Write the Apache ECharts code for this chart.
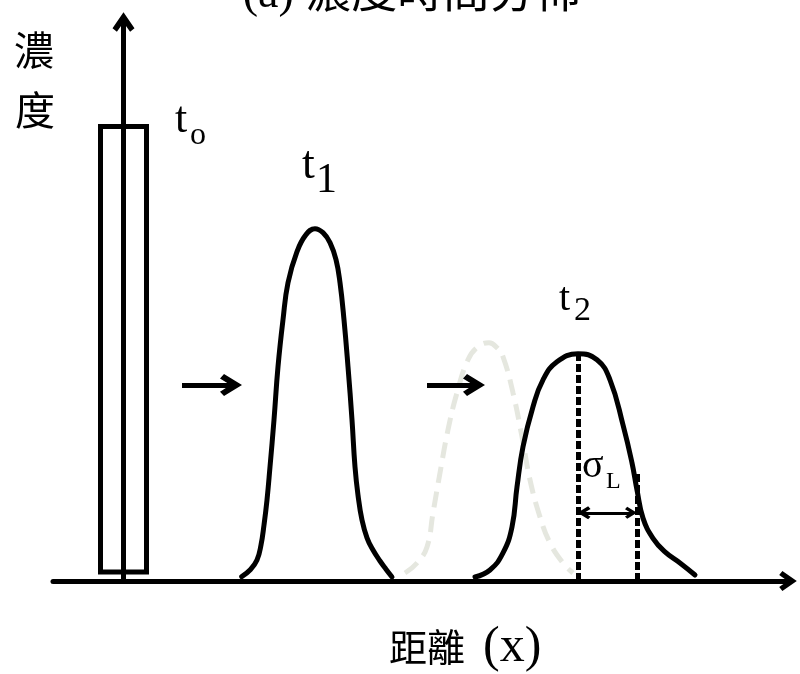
<!DOCTYPE html>
<html>
<head>
<meta charset="utf-8">
<script src="https://cdn.jsdelivr.net/npm/echarts@6/dist/echarts.min.js"></script>
<style>
  html, body { margin: 0; padding: 0; background: #fff; }
  #chart { width: 800px; height: 674px; }
</style>
</head>
<body>
<div id="chart"></div>
<script>
// Initial pulse at t0: a rectangular slug of solute at the injection point
const pulseEdges = [-2.3, 2.3];
const pulseBase = 2;
const pulseHeight = 100;

// Concentration profile at t1 (distance, concentration)
const t1X = [11.82, 12.65, 13.35, 13.75, 14.05, 14.35, 14.65, 15.05, 15.45, 15.95, 16.45, 17.35, 18.25, 19.15,
             19.95, 20.65, 21.25, 21.65, 22.05, 22.45, 22.85, 23.15, 23.45, 23.85, 24.35, 24.95, 25.65, 26.25, 26.85];
const t1Y = [0.95, 2.42, 4.63, 7.93, 12.33, 17.84, 25.11, 35.46, 47.14, 57.49, 65.64, 72.47, 76.21, 77.53,
             76.65, 74.45, 70.70, 65.64, 57.49, 47.14, 35.46, 25.11, 18.9, 13.4, 9.5, 6.8, 4.4, 2.6, 0.88];

// Pure advection of the t1 profile (no extra spreading), shown faint
const advX = [28.15, 29.35, 30.35, 30.95, 31.65, 32.45, 33.35, 34.45, 35.45, 36.55, 37.35, 37.95, 38.95,
              39.85, 40.65, 41.65, 42.65, 43.95, 44.95];
const advY = [1.76, 3.96, 7.49, 14.98, 23.79, 33.26, 41.41, 48.68, 51.54, 52.42, 51.32, 49.34, 41.41,
              31.72, 22.25, 14.10, 8.37, 3.96, 1.76];

// Concentration profile at t2, spread by longitudinal dispersion
const t2X = [35.15, 36.65, 37.95, 38.85, 39.35, 39.95, 40.95, 41.95, 43.35, 45.45, 47.35, 48.65, 49.95,
             50.85, 51.35, 51.95, 52.95, 54.15, 55.65, 57.15];
const t2Y = [0.88, 2.42, 6.17, 11.89, 20.70, 29.52, 38.33, 44.27, 48.24, 50.00, 48.68, 44.27, 34.36,
             25.99, 20.04, 13.84, 9.4, 6.4, 3.96, 1.32];

// Peak position of t2, one standard deviation to its right, and the level of the sigma arrow
const t2Peak = [45.45, 50.0];
const sigmaL = 5.9;
const sigmaMarkTop = 24;
const sigmaArrowLevel = 15;

// Drift arrows between profiles: [start x, end x, level]
const driftArrows = [[5.85, 10.75, 43.1], [30.35, 35.05, 43.1]];

const zip = (xs, ys) => xs.map((x, i) => [x, ys[i]]);

const SERIF = '"Liberation Serif", "Times New Roman", serif';
const CJK = '"Noto Sans CJK TC", "Noto Sans CJK SC", sans-serif';
const MIX = '"Liberation Serif", "Noto Sans CJK TC", serif';

// Chevron arrow head, pointing up (the library rotates it along the line)
const CHEVRON = 'path://M50,0 L100,72 L80,88 L50,46 L20,88 L0,72 Z';

function txt(str, x, y, size, family, align) {
  return {
    type: 'text', x: x, y: y, silent: true, z: 10,
    style: {
      text: str, fill: '#000',
      font: size + 'px ' + family,
      textAlign: align || 'left', textVerticalAlign: 'middle'
    }
  };
}

const chart = echarts.init(document.getElementById('chart'), null, { renderer: 'canvas' });

const pulse = [
  [pulseEdges[0], pulseBase], [pulseEdges[0], pulseHeight],
  [pulseEdges[1], pulseHeight], [pulseEdges[1], pulseBase], [pulseEdges[0], pulseBase]
];

const curveStyle = { color: '#000', width: 5, cap: 'round', join: 'round' };

chart.setOption({
  animation: false,
  backgroundColor: '#fff',
  grid: { left: 53, right: 12, top: 22, bottom: 93 },
  xAxis: {
    type: 'value', min: -7.05, max: 66.45,
    axisLine: {
      show: true, onZero: true,
      symbol: ['none', CHEVRON], symbolSize: [20, 20],
      lineStyle: { color: '#000', width: 5 }
    },
    axisTick: { show: false }, axisLabel: { show: false }, splitLine: { show: false }
  },
  yAxis: {
    type: 'value', min: 0, max: 123,
    axisLine: {
      show: true, onZero: true,
      symbol: ['none', CHEVRON], symbolSize: [22, 20],
      lineStyle: { color: '#000', width: 5 }
    },
    axisTick: { show: false }, axisLabel: { show: false }, splitLine: { show: false }
  },
  series: [
    {
      name: 't0', type: 'line', data: pulse, symbol: 'none', clip: false, z: 3,
      lineStyle: { color: '#000', width: 5, join: 'miter', cap: 'square' }
    },
    {
      name: 't1', type: 'line', data: zip(t1X, t1Y), symbol: 'none', smooth: 0.45,
      clip: false, z: 3, lineStyle: curveStyle
    },
    {
      name: 'advection', type: 'line', data: zip(advX, advY), symbol: 'none', smooth: 0.45,
      clip: false, z: 2, lineStyle: { color: '#e5e7df', width: 5, type: [16, 9], cap: 'butt' }
    },
    {
      name: 't2', type: 'line', data: zip(t2X, t2Y), symbol: 'none', smooth: 0.45,
      clip: false, z: 3, lineStyle: curveStyle
    },
    {
      name: 'drift', type: 'lines', coordinateSystem: 'cartesian2d', z: 4,
      symbol: ['none', CHEVRON], symbolSize: [24, 22],
      lineStyle: { color: '#000', width: 5, opacity: 1 },
      data: driftArrows.map(a => ({ coords: [[a[0], a[2]], [a[1], a[2]]] }))
    },
    {
      name: 'sigma marks', type: 'lines', coordinateSystem: 'cartesian2d', z: 4,
      symbol: ['none', 'none'],
      lineStyle: { color: '#000', width: 5, type: [8, 3], opacity: 1 },
      data: [
        { coords: [[t2Peak[0], 0], [t2Peak[0], t2Peak[1]]] },
        { coords: [[t2Peak[0] + sigmaL, 0], [t2Peak[0] + sigmaL, sigmaMarkTop]] }
      ]
    },
    {
      name: 'sigma span', type: 'lines', coordinateSystem: 'cartesian2d', z: 4,
      symbol: [CHEVRON, CHEVRON], symbolSize: [13, 12],
      lineStyle: { color: '#000', width: 3, opacity: 1 },
      data: [{ coords: [[t2Peak[0] + 0.6, sigmaArrowLevel], [t2Peak[0] + sigmaL - 0.6, sigmaArrowLevel]] }]
    }
  ],
  graphic: [
    txt('(a) 濃度時間分佈', 412, -5, 46, MIX, 'center'),
    txt('濃', 34, 50, 40, CJK, 'center'),
    txt('度', 35, 110, 40, CJK, 'center'),
    txt('t', 175, 120, 44, SERIF),
    txt('o', 190, 136, 32, SERIF),
    txt('t', 302, 166, 46, SERIF),
    txt('1', 316, 181, 42, SERIF),
    txt('t', 559, 299, 40, SERIF),
    txt('2', 574, 311, 34, SERIF),
    txt('σ', 582, 466, 40, SERIF),
    txt('L', 606, 482, 24, SERIF),
    txt('距離', 389, 647, 38, CJK),
    txt('(x)', 483, 648, 50, SERIF)
  ]
});
</script>
</body>
</html>
